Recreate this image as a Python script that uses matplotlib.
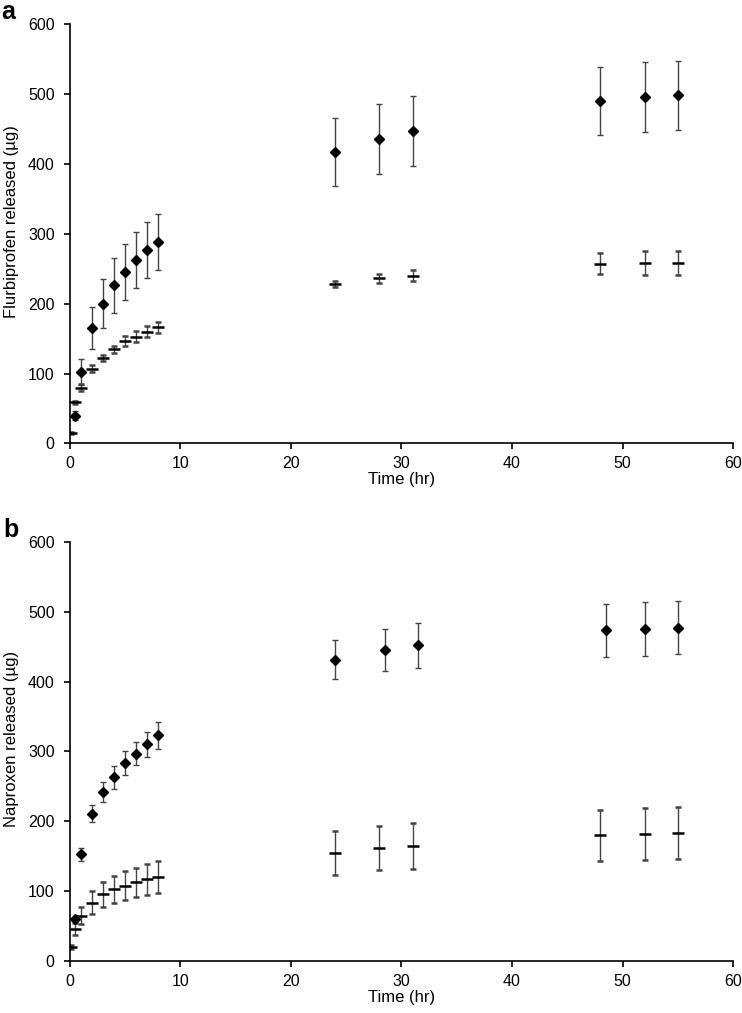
import matplotlib.pyplot as plt

# panel a - flurbiprofen
a_time_d = [0.5, 1, 2, 3, 4, 5, 6, 7, 8, 24, 28, 31, 48, 52, 55]
a_val_d = [40, 102, 165, 200, 226, 245, 263, 277, 288, 417, 436, 447, 490, 496, 498]
a_err_d = [7, 19, 30, 35, 40, 40, 40, 40, 40, 49, 50, 50, 49, 50, 49]

a_time_m = [0.1, 0.5, 1, 2, 3, 4, 5, 6, 7, 8, 24, 28, 31, 48, 52, 55]
a_val_m = [15, 59, 80, 107, 122, 135, 147, 153, 160, 166, 228, 236, 240, 257, 258, 258]
a_err_m = [1, 2, 5, 5, 4, 5, 7, 8, 8, 8, 4, 7, 8, 15, 17, 17]

# panel b - naproxen
b_time_d = [0.5, 1, 2, 3, 4, 5, 6, 7, 8, 24, 28.5, 31.5, 48.5, 52, 55]
b_val_d = [61, 153, 211, 242, 263, 283, 297, 310, 323, 431, 445, 452, 473, 475, 477]
b_err_d = [3, 9, 12, 14, 16, 17, 17, 18, 19, 28, 30, 32, 38, 39, 38]

b_time_m = [0.1, 0.5, 1, 2, 3, 4, 5, 6, 7, 8, 24, 28, 31, 48, 52, 55]
b_val_m = [20, 46, 65, 84, 96, 103, 108, 113, 117, 121, 155, 162, 165, 180, 182, 184]
b_err_m = [3, 9, 12, 16, 18, 19, 21, 21, 22, 23, 31, 32, 33, 36, 37, 37]

plt.rcParams['font.family'] = ['Liberation Sans', 'DejaVu Sans']

fig = plt.figure(figsize=(7.42, 10.13), dpi=100)
ax_a = fig.add_axes([0.0943, 0.5622, 0.8936, 0.4141])
ax_b = fig.add_axes([0.0943, 0.0510, 0.8936, 0.4143])

panels = [
    (ax_a, a_time_d, a_val_d, a_err_d, a_time_m, a_val_m, a_err_m, 'Flurbiprofen released (µg)'),
    (ax_b, b_time_d, b_val_d, b_err_d, b_time_m, b_val_m, b_err_m, 'Naproxen released (µg)'),
]

for ax, td, vd, ed, tm, vm, em, ylab in panels:
    ax.errorbar(td, vd, yerr=ed, fmt='D', color='black', markersize=5.5,
                ecolor='#444444', elinewidth=1.0, capsize=2.5, capthick=1.0)
    ax.errorbar(tm, vm, yerr=em, fmt='_', color='black', markersize=9,
                markeredgewidth=1.8, ecolor='#444444', elinewidth=1.0,
                capsize=2.5, capthick=1.0)
    ax.set_xlim(0, 60)
    ax.set_ylim(0, 600)
    ax.set_xticks(range(0, 61, 10))
    ax.set_yticks(range(0, 601, 100))
    ax.spines['top'].set_visible(False)
    ax.spines['right'].set_visible(False)
    ax.spines['left'].set_linewidth(1.2)
    ax.spines['bottom'].set_linewidth(1.2)
    ax.tick_params(direction='out', length=4, width=1.2, labelsize=11.5)
    ax.tick_params(axis='y', pad=7)
    ax.tick_params(axis='x', pad=5)
    ax.set_xlabel('Time (hr)', fontsize=12, labelpad=1)
    ax.set_ylabel(ylab, fontsize=12)
    ax.yaxis.set_label_coords(-0.077, 0.53)
    for spine in ax.spines.values():
        spine.set_clip_on(False)

fig.text(0.002, 1 - 19 / 1013, 'a', fontsize=18, fontweight='bold', ha='left', va='baseline')
fig.text(0.004, 1 - 537 / 1013, 'b', fontsize=18, fontweight='bold', ha='left', va='baseline')

fig.savefig('out.png', dpi=100)
